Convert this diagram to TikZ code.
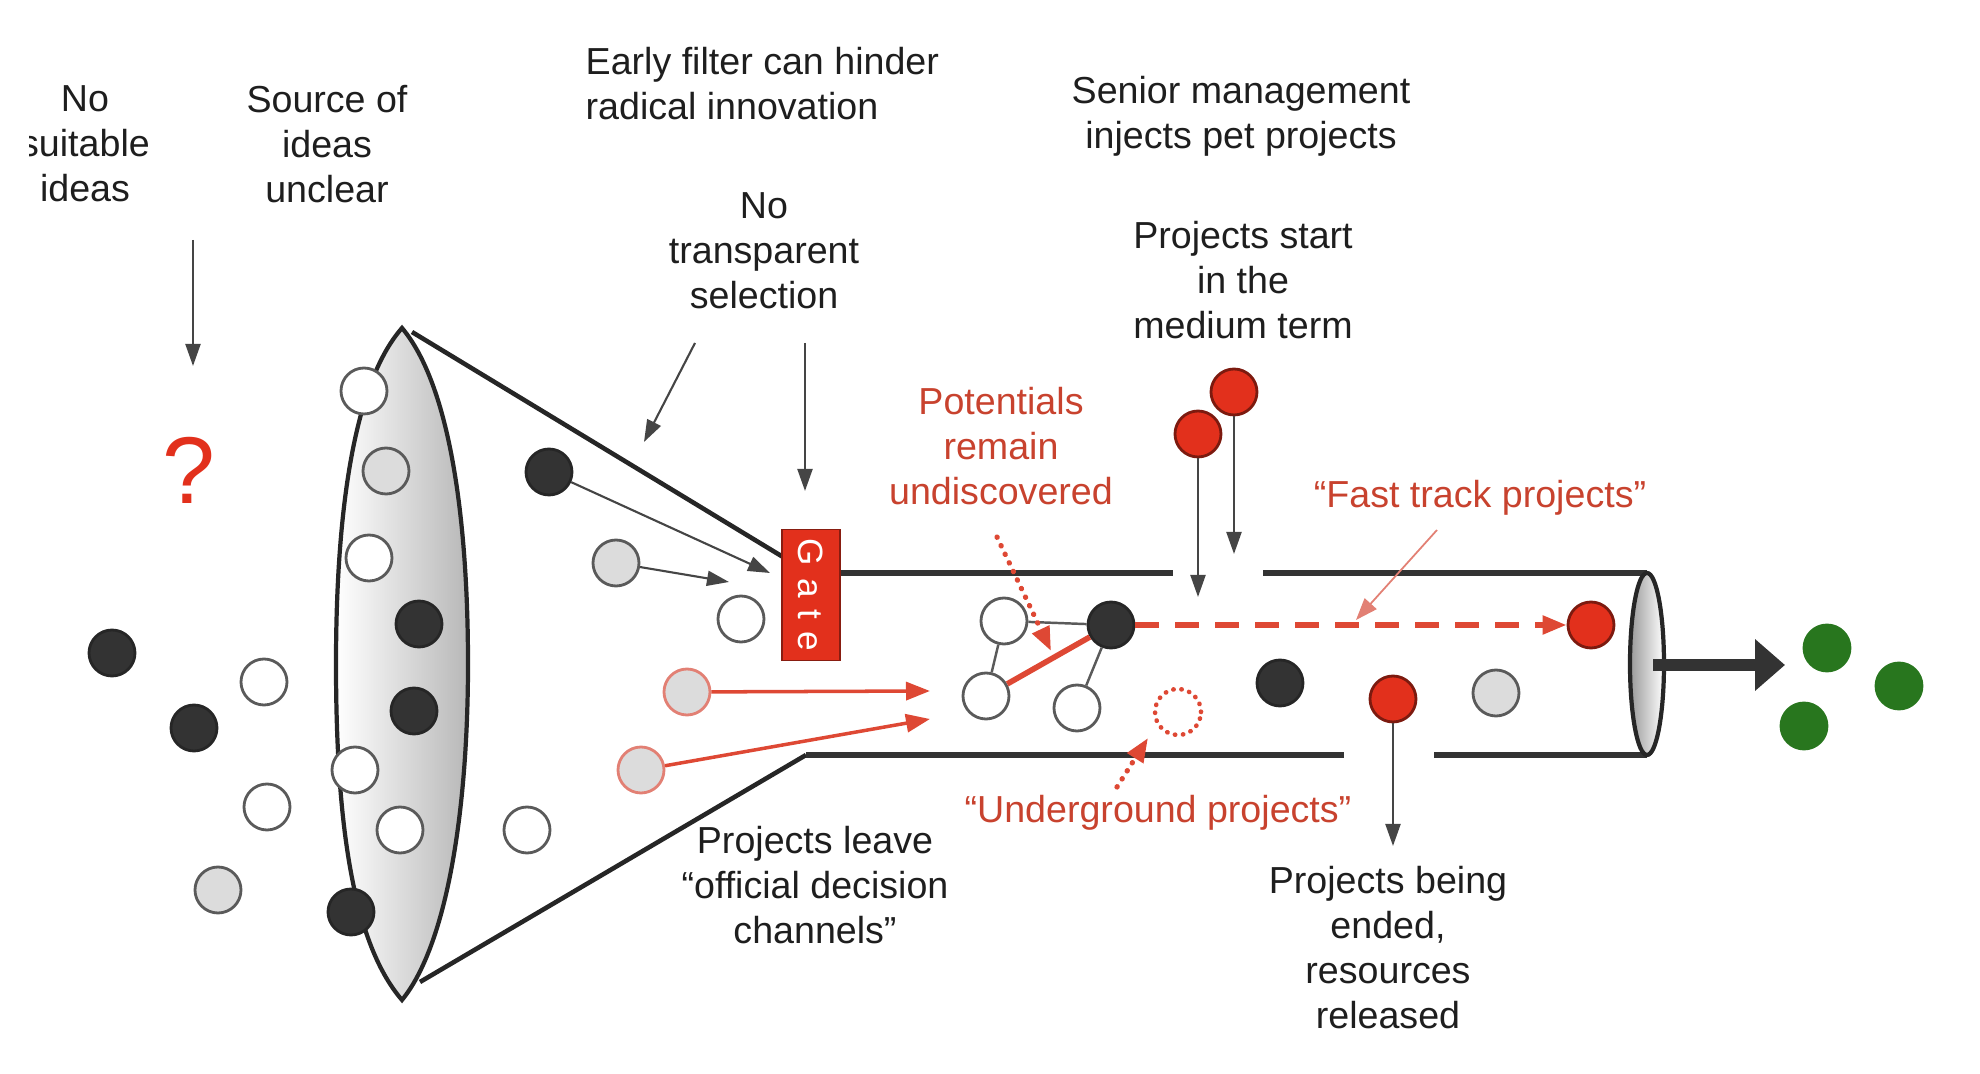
\documentclass[tikz,border=0pt]{standalone}
\usepackage{fontspec}
\setmainfont{Liberation Sans}
\usepackage{tikz}
\usetikzlibrary{arrows.meta,positioning,calc}
\definecolor{inkblack}{HTML}{1E1E1E}
\definecolor{notered}{RGB}{200,66,46}
\definecolor{ballred}{RGB}{226,48,28}
\definecolor{arrowred}{RGB}{222,72,52}
\definecolor{palered}{RGB}{226,128,116}
\definecolor{balldark}{HTML}{333333}
\definecolor{ballgrey}{HTML}{DCDCDC}
\definecolor{ballrim}{HTML}{5A5A5A}
\definecolor{ballgreen}{RGB}{40,118,30}
\definecolor{arrowgrey}{HTML}{454545}
\tikzset{
    note/.style={align=center,inner sep=0pt,text=inkblack},
    red note/.style={note,text=notered},
    ball/.style={circle,minimum size=4.6mm,inner sep=0pt,line width=0.8pt},
    dark ball/.style={ball,fill=balldark,draw=black!85},
    white ball/.style={ball,fill=white,draw=ballrim},
    grey ball/.style={ball,fill=ballgrey,draw=ballrim},
    red ball/.style={ball,fill=ballred,draw=ballred!55!black},
    pale ball/.style={ball,fill=ballgrey,draw=palered},
    green ball/.style={ball,fill=ballgreen,draw=ballgreen},
    lost ball/.style={ball,draw=arrowred,line width=1.3pt,dash pattern=on 0.1pt off 2.2pt,line cap=round},
    arr/.style={-{Triangle[length=2.2mm,width=1.5mm]},line width=0.6pt,draw=arrowgrey},
    rarr/.style={-{Triangle[length=2.4mm,width=1.8mm]},line width=1pt,draw=arrowred},
    fine rarr/.style={-{Triangle[length=2.2mm,width=1.6mm]},line width=0.5pt,draw=palered},
    dotted rarr/.style={-{Triangle[length=2.4mm,width=1.8mm]},line width=1.5pt,draw=arrowred,
        dash pattern=on 0.1pt off 2.6pt,line cap=round},
    fast rarr/.style={-{Triangle[length=2.4mm,width=1.8mm]},line width=1.5pt,draw=arrowred,
        dash pattern=on 2.4mm off 1.6mm},
    link/.style={line width=0.7pt,draw=ballrim},
    red link/.style={line width=1.6pt,draw=arrowred},
    pipe/.style={line width=1.5pt,draw=black!80},
    exit arrow/.style={-{Triangle[length=3mm,width=5mm]},line width=3.4pt,draw=balldark},
    gatebox/.style={rectangle,fill=ballred,draw=ballred!60!black,line width=0.5pt,
        minimum width=5.8mm,minimum height=13.1mm,inner sep=0pt,text=white},
}
\tikzstyle{every node}=[font=\fontsize{10.7}{12.8}\selectfont]

\begin{document}
\begin{tikzpicture}[x=0.1mm,y=-0.1mm]
    \useasboundingbox (0,0) rectangle (1980,1074);

    % funnel mouth and cone
    \coordinate (mouth top) at (402,328);
    \coordinate (mouth bottom) at (402,1000);
    \coordinate (cone top) at (783,557);
    \coordinate (cone bottom) at (806,755);
    \draw[line width=1.2pt,draw=black!85,left color=white,right color=black!28]
        (mouth top) .. controls (352,385) and (336,520) .. (336,664)
        .. controls (336,810) and (350,940) .. (mouth bottom)
        .. controls (447,945) and (468,810) .. (468,664)
        .. controls (468,520) and (450,385) .. (mouth top) -- cycle;
    \draw[line width=1.3pt,draw=black!85] ($(mouth top)+(10,4)$) -- (cone top);
    \draw[line width=1.3pt,draw=black!85] ($(mouth bottom)+(18,-18)$) -- (cone bottom);

    % pipe
    \draw[pipe] (840,573) -- (1173,573);
    \draw[pipe] (1263,573) -- (1647,573);
    \draw[pipe] (cone bottom) -- (1344,755);
    \draw[pipe] (1434,755) -- (1647,755);
    \draw[line width=1.2pt,draw=black!85,left color=black!40,right color=white]
        (1647,664) ellipse [x radius=17,y radius=91];
    \coordinate (exit start) at (1653,665);
    \coordinate (exit end) at (1785,665);
    \draw[exit arrow] (exit start) -- (exit end);

    % ideas outside the funnel
    \node[dark ball] (o1) at (112,653) {};
    \node[white ball] (o2) at (264,682) {};
    \node[dark ball] (o3) at (194,728) {};
    \node[white ball] (o4) at (267,807) {};
    \node[grey ball] (o5) at (218,890) {};

    % ideas in the mouth
    \node[white ball] (m1) at (364,391) {};
    \node[grey ball] (m2) at (386,471) {};
    \node[white ball] (m3) at (369,558) {};
    \node[dark ball] (m4) at (419,624) {};
    \node[dark ball] (m5) at (414,711) {};
    \node[white ball] (m6) at (355,770) {};
    \node[white ball] (m7) at (400,830) {};
    \node[dark ball] (m8) at (351,912) {};
    \node[white ball] (m9) at (527,830) {};

    % ideas in the cone
    \node[dark ball] (c1) at (549,472) {};
    \node[grey ball] (c2) at (616,563) {};
    \node[white ball] (c3) at (741,619) {};
    \node[pale ball] (c4) at (687,692) {};
    \node[pale ball] (c5) at (641,770) {};
    \coordinate (c1 to) at (770,573);
    \coordinate (c2 to) at (729,582);
    \coordinate (c4 to) at (930,691);
    \coordinate (c5 to) at (930,719);
    \draw[arr] (c1) -- (c1 to);
    \draw[arr] (c2) -- (c2 to);
    \draw[rarr] (c4) -- (c4 to);
    \draw[rarr] (c5) -- (c5 to);

    \node[gatebox] (gate) at (811,595)
        {\rotatebox{-90}{\fontsize{10}{12}\selectfont G\hspace{3.5pt}a\hspace{3.5pt}t\hspace{3.5pt}e}};

    % network behind the gate
    \node[white ball] (n1) at (1004,621) {};
    \node[white ball] (n2) at (986,696) {};
    \node[white ball] (n3) at (1077,708) {};
    \node[dark ball] (n4) at (1111,625) {};
    \draw[link] (n1) -- (n4);
    \draw[link] (n1) -- (n2);
    \draw[link] (n4) -- (n3);
    \draw[red link] (n2) -- (n4);

    % pipe contents
    \node[red ball] (fast) at (1591,625) {};
    \draw[fast rarr] (n4) -- (fast);
    \node[dark ball] (p1) at (1280,683) {};
    \node[red ball] (p2) at (1393,699) {};
    \node[grey ball] (p3) at (1496,693) {};
    \node[lost ball] (lost) at (1178,712) {};
    \coordinate (p2 to) at (1393,846);
    \draw[arr] (p2) -- (p2 to);

    % pet projects
    \node[red ball] (pet1) at (1234,392) {};
    \node[red ball] (pet2) at (1198,434) {};
    \coordinate (pet1 to) at (1234,554);
    \coordinate (pet2 to) at (1198,597);
    \draw[arr] (pet1) -- (pet1 to);
    \draw[arr] (pet2) -- (pet2 to);

    % labels
    \begin{scope}
        \clip (29,0) rectangle (300,300);
        \node[note] (nosuit) at (85,144) {No\\suitable\\ideas};
    \end{scope}
    \node[note] (source) at (327,144) {Source of\\ideas\\unclear};
    \node[note,align=left,anchor=west] (early) at (585,84) {Early filter can hinder\\radical innovation};
    \node[note] (notrans) at (764,251) {No\\transparent\\selection};
    \node[note] (senior) at (1241,116) {Senior management\\injects pet projects};
    \node[note] (start) at (1243,280) {Projects start\\in the\\medium term};
    \node[note] (leave) at (815,885) {Projects leave\\“official decision\\channels”};
    \node[note] (ended) at (1388,948) {Projects being\\ended,\\resources\\released};
    \node[red note] (potent) at (1001,446) {Potentials\\remain\\undiscovered};
    \node[red note] (fastlbl) at (1480,498) {“Fast track projects”};
    \node[red note] (under) at (1158,813) {“Underground projects”};
    \node[inner sep=0pt,text=ballred,font=\fontsize{27}{30}\selectfont] (qmark) at (189,470) {?};

    % pointers
    \coordinate (q from) at (193,240);
    \coordinate (q to) at (193,366);
    \draw[arr] (q from) -- (q to);
    \coordinate (early from) at (695,343);
    \coordinate (early to) at (644,442);
    \draw[arr] (early from) -- (early to);
    \coordinate (trans from) at (805,343);
    \coordinate (trans to) at (805,491);
    \draw[arr] (trans from) -- (trans to);
    \coordinate (potent from) at (997,537);
    \coordinate (potent to) at (1051,651);
    \draw[dotted rarr] (potent from) -- (potent to);
    \coordinate (under from) at (1117,787);
    \coordinate (under to) at (1148,738);
    \draw[dotted rarr] (under from) -- (under to);
    \coordinate (fast from) at (1437,530);
    \coordinate (fast to) at (1356,620);
    \draw[fine rarr] (fast from) -- (fast to);

    % results
    \node[green ball] (g1) at (1827,648) {};
    \node[green ball] (g2) at (1899,686) {};
    \node[green ball] (g3) at (1804,726) {};
\end{tikzpicture}
\end{document}
